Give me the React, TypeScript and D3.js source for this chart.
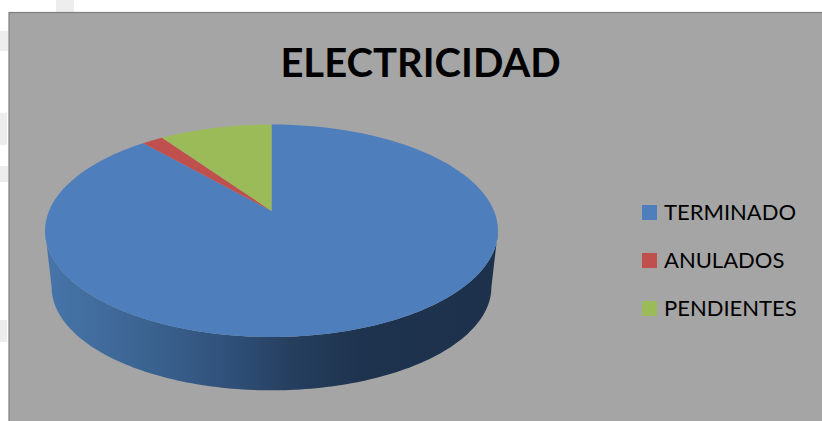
import React from "react";
import * as d3 from "d3";

const categories = ["TERMINADO", "ANULADOS", "PENDIENTES"];
const values = [88.6, 1.8, 9.6];
const colors = ["#4e7fbc", "#bf504d", "#9bbb59"];
const chartTitle = "ELECTRICIDAD";
const watermarks: [number, number, number, number][] = [
  [56, 0, 18, 12], [0, 31, 8, 20], [0, 113, 7, 32], [0, 166, 8, 16], [0, 320, 7, 22],
];

const W = 822, H = 421;
const CX = 271.5;

// Tilted disc: angle → screen point, with perspective foreshortening
function project(theta: number, scale: number, apexY: number): [number, number] {
  const b = 0.1859, a = 222.5 * scale, d = 102.6 * scale;
  const s = Math.sin(theta), c = Math.cos(theta);
  const w = 1 + b * c;
  return [CX + (a * s) / w, apexY - (d * c) / w];
}
const TOP = { scale: 1, apex: 211 };
const BOT = { scale: 0.971, apex: 268 };
const line = d3.line<[number, number]>();
const sample = (t0: number, t1: number, level: { scale: number; apex: number }) => {
  const n = Math.max(2, Math.ceil(Math.abs(t1 - t0) / 0.02));
  const sc = d3.scaleLinear().domain([0, n]).range([t0, t1]);
  return d3.range(n + 1).map((i) => project(sc(i), level.scale, level.apex));
};

export default function App() {
  const arcs = d3.pie<number>().sort(null).startAngle(0).endAngle(2 * Math.PI)(values);
  const tR = Math.PI - Math.asin(0) - Math.acos(0.1859) + Math.PI / 2 - Math.PI / 2;
  // silhouette angles where the disc is widest
  const right = Math.acos(-0.1859);
  const left = 2 * Math.PI - right;
  const sidePts = [...sample(right, left, TOP), ...sample(left, right, BOT)];
  void tR;
  const legendY = d3.scalePoint<string>().domain(categories).range([212.5, 308.5]);

  return (
    <svg width={W} height={H} viewBox={`0 0 ${W} ${H}`} style={{ position: "fixed", left: 0, top: 0, background: "#fff" }}>
      <defs>
        <linearGradient id="side" gradientUnits="userSpaceOnUse" x1={45} x2={498} y1={0} y2={0}>
          <stop offset="0" stopColor="#4775aa" />
          <stop offset="0.23" stopColor="#3b6390" />
          <stop offset="0.41" stopColor="#2f5079" />
          <stop offset="0.54" stopColor="#263f5f" />
          <stop offset="0.7" stopColor="#1e334e" />
          <stop offset="1" stopColor="#1d314c" />
        </linearGradient>
      </defs>
      {watermarks.map((m, i) => (
        <rect key={i} x={m[0]} y={m[1]} width={m[2]} height={m[3]} fill="#ededed" />
      ))}
      <rect x={9} y={12.5} width={W} height={H} fill="#a5a5a5" stroke="#7f7f7f" strokeWidth={1.2} />
      <text x={420.5} y={77} textAnchor="middle" fontFamily="Lato, 'Open Sans', sans-serif" fontWeight={700} fontSize={40} fill="#000">
        {chartTitle}
      </text>
      <path d={line(sidePts) + "Z"} fill="url(#side)" />
      {arcs.map((a, i) => (
        <path
          key={categories[i]}
          d={line([[CX, TOP.apex], ...sample(a.startAngle, a.endAngle, TOP)]) + "Z"}
          fill={colors[i]}
        />
      ))}
      {categories.map((c, i) => (
        <g key={c}>
          <rect x={642} y={legendY(c)! - 7.5} width={15} height={15} fill={colors[i]} />
          <text x={664} y={legendY(c)! + 7.5} fontFamily="Lato, 'Open Sans', sans-serif" fontSize={22} fill="#000">
            {c}
          </text>
        </g>
      ))}
    </svg>
  );
}
